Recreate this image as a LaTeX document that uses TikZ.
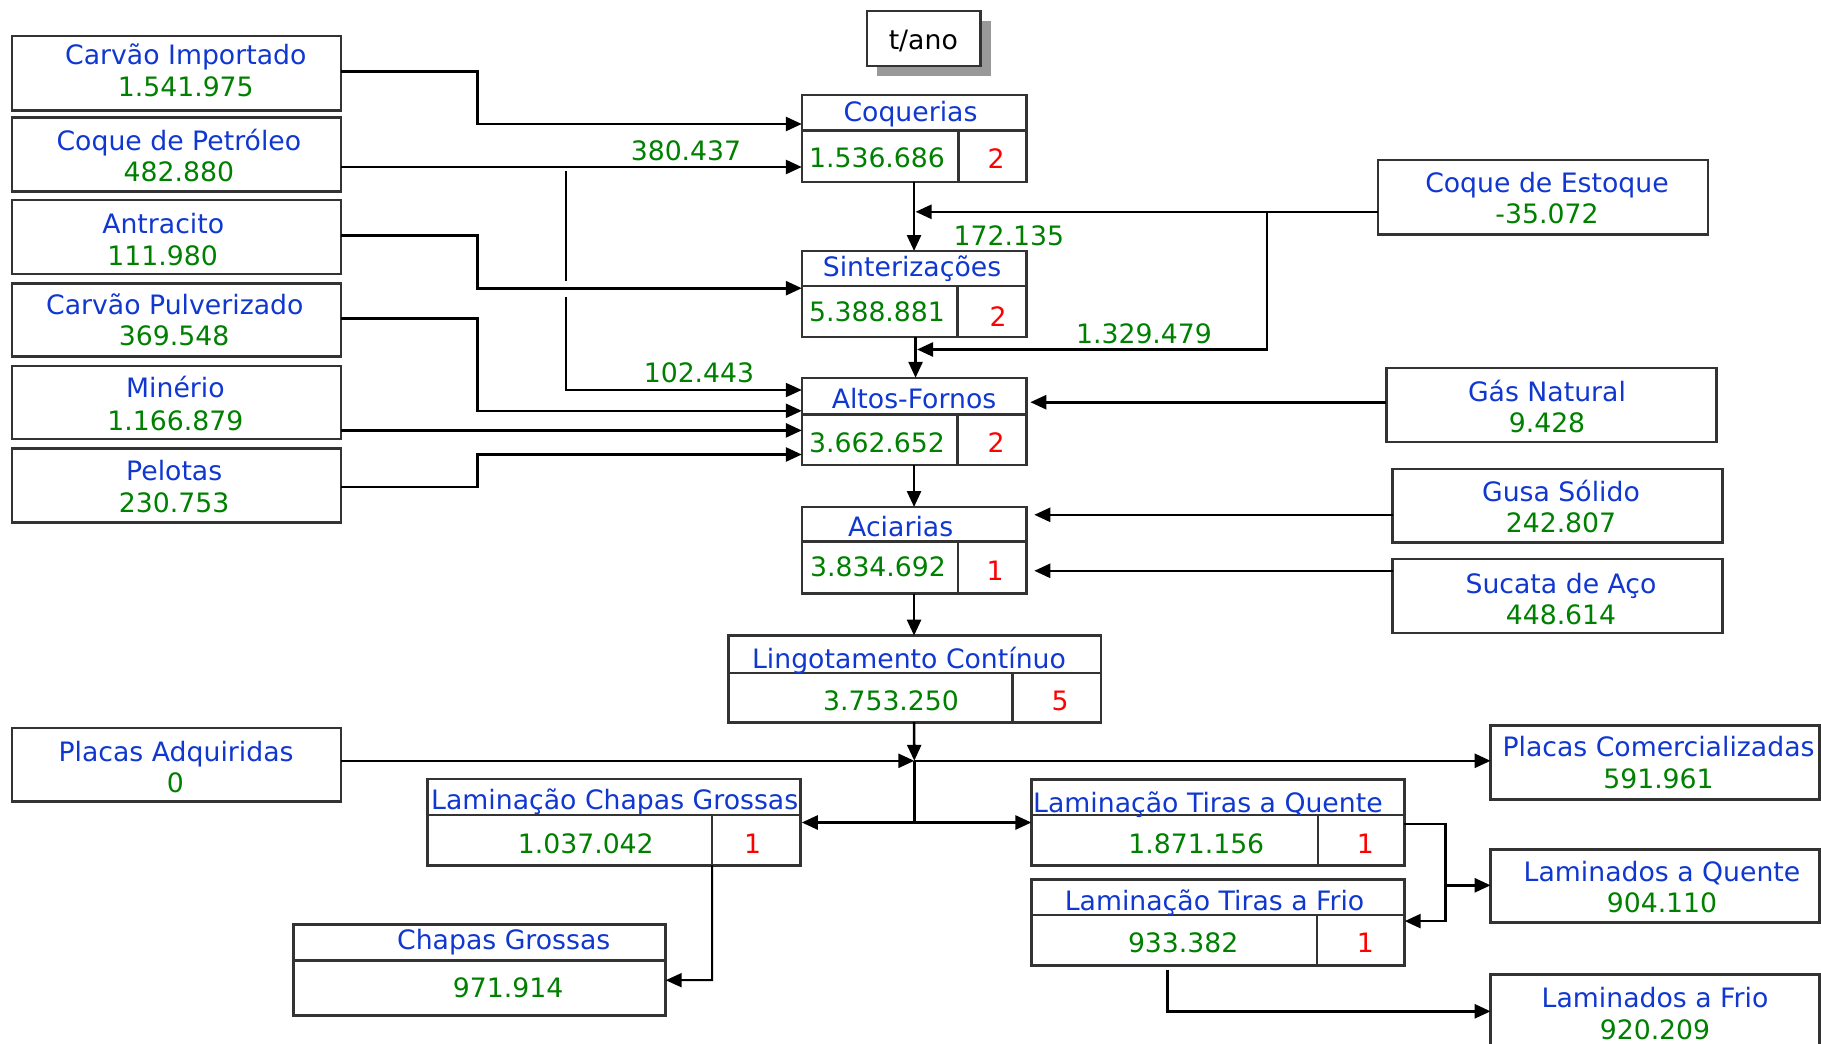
\documentclass[tikz,border=0pt]{standalone}
\usepackage{fontspec}
\setmainfont{DejaVu Sans}
\usetikzlibrary{arrows.meta,fit}
\definecolor{tblue}{RGB}{16,56,208}
\definecolor{ngreen}{RGB}{0,128,0}
\definecolor{boxc}{RGB}{51,51,51}
\definecolor{shadowc}{RGB}{153,153,153}
\newcommand\myfs{\fontsize{26.7}{31}\selectfont}
\begin{document}
\begin{tikzpicture}[x=1pt,y=-1pt,
  cell/.style={draw=boxc, line width=2.6pt, inner sep=0pt, outer sep=0pt},
  frame/.style={inner sep=0pt, outer sep=0pt},
  ttl/.style={text=tblue, anchor=base, font=\myfs, inner sep=0pt},
  ttlw/.style={text=tblue, anchor=base west, font=\myfs, inner sep=0pt},
  num/.style={text=ngreen, anchor=base, font=\myfs, inner sep=0pt},
  cnt/.style={text=red, anchor=base, font=\myfs, inner sep=0pt},
  conn/.style={line width=2.6pt, draw=black},
  thin/.style={line width=2pt, draw=black},
  arr/.style={conn, -{Triangle[length=16pt,width=14pt]}},
  arrthin/.style={thin, -{Triangle[length=16pt,width=14pt]}}
]
\useasboundingbox (0,0) rectangle (1821,1044);
\fill[white] (0,0) rectangle (1821,1044);

% ---- t/ano
\node[frame, fill=shadowc, fit={(877,21) (990.7,76)}] (tsh) {};
\node[cell, fill=white, fit={(867,11) (980.7,66)}] (tano) {};
\node[anchor=base, font=\myfs, inner sep=0pt] (tano-t) at (923.3,49.5) {t/ano};

% ---- left input boxes
\node[cell, fit={(12,36) (341,110.3)}] (cimp) {};
\node[cell, fit={(12,117.5) (341,191.6)}] (cpet) {};
\node[cell, fit={(12,200) (341,274)}] (antr) {};
\node[cell, fit={(12,283.2) (341,356.5)}] (cpul) {};
\node[cell, fit={(12,366) (341,439)}] (mine) {};
\node[cell, fit={(12,448.3) (341,522.5)}] (pelo) {};
\node[cell, fit={(12,727.8) (341,801.4)}] (padq) {};

\node[ttl] (cimp-t) at (185.8,64.6) {Carvão Importado};
\node[num] (cimp-n) at (185.8,96) {1.541.975};
\node[ttl] (cpet-t) at (178.9,150.5) {Coque de Petróleo};
\node[num] (cpet-n) at (178.9,181.9) {482.880};
\node[ttl] (antr-t) at (163.2,233) {Antracito};
\node[num] (antr-n) at (162.6,265.5) {111.980};
\node[ttl] (cpul-t) at (174.8,314.3) {Carvão Pulverizado};
\node[num] (cpul-n) at (174.2,345.6) {369.548};
\node[ttl] (mine-t) at (175.4,397.9) {Minério};
\node[num] (mine-n) at (175.4,430.4) {1.166.879};
\node[ttl] (pelo-t) at (174.2,480.4) {Pelotas};
\node[num] (pelo-n) at (174.2,512.9) {230.753};
\node[ttl] (padq-t) at (176,761.4) {Placas Adquiridas};
\node[num] (padq-n) at (175.4,792.8) {0};

% ---- right boxes
\node[cell, fit={(1378,160) (1708,234.2)}] (cest) {};
\node[cell, fit={(1386.4,367.8) (1716.2,441.8)}] (gas) {};
\node[cell, fit={(1392.7,469) (1722.5,542.4)}] (gusa) {};
\node[cell, fit={(1392.7,558.8) (1722.5,633)}] (suca) {};
\node[cell, fit={(1490.6,725.5) (1819.4,799.4)}] (pcom) {};
\node[cell, fit={(1490.6,849.2) (1819.4,922.7)}] (lq) {};
\node[cell, fit={(1490.6,974.5) (1819.4,1060)}] (lf) {};

\node[ttl] (cest-t) at (1547,192.3) {Coque de Estoque};
\node[num] (cest-n) at (1547,223.7) {-35.072};
\node[ttl] (gas-t) at (1547,401.4) {Gás Natural};
\node[num] (gas-n) at (1547,432.7) {9.428};
\node[ttl] (gusa-t) at (1561,501.3) {Gusa Sólido};
\node[num] (gusa-n) at (1561,532.6) {242.807};
\node[ttl] (suca-t) at (1561,593) {Sucata de Aço};
\node[num] (suca-n) at (1561,624.4) {448.614};
\node[ttl] (pcom-t) at (1658.5,756.8) {Placas Comercializadas};
\node[num] (pcom-n) at (1658.5,788.1) {591.961};
\node[ttl] (lq-t) at (1662,881) {Laminados a Quente};
\node[num] (lq-n) at (1662,912.4) {904.110};
\node[ttl] (lf-t) at (1655,1007.6) {Laminados a Frio};
\node[num] (lf-n) at (1655,1039) {920.209};

% ---- process boxes
% Coquerias
\node[frame, fit={(801.8,95) (1026.3,181.8)}] (coq) {};
\node[cell, fit={(801.8,95) (1026.3,130.5)}] (coqT) {};
\node[cell, fit={(801.8,130.5) (958.3,181.8)}] (coqN) {};
\node[cell, fit={(958.3,130.5) (1026.3,181.8)}] (coqC) {};
\node[ttl] (coq-t) at (910.5,121) {Coquerias};
\node[num] (coq-n) at (877,167.4) {1.536.686};
\node[cnt] (coq-c) at (996,168.4) {2};
% Sinterizacoes
\node[frame, fit={(801.8,251) (1026.3,336.8)}] (sin) {};
\node[cell, fit={(801.8,251) (1026.3,285.8)}] (sinT) {};
\node[cell, fit={(801.8,285.8) (957.6,336.8)}] (sinN) {};
\node[cell, fit={(957.6,285.8) (1026.3,336.8)}] (sinC) {};
\node[ttl] (sin-t) at (912,276.9) {Sinterizações};
\node[num] (sin-n) at (877,321.6) {5.388.881};
\node[cnt] (sin-c) at (998,326) {2};
% Altos-Fornos
\node[frame, fit={(801.8,377.8) (1026.3,464.9)}] (alt) {};
\node[cell, fit={(801.8,377.8) (1026.3,414.3)}] (altT) {};
\node[cell, fit={(801.8,414.3) (957.6,464.9)}] (altN) {};
\node[cell, fit={(957.6,414.3) (1026.3,464.9)}] (altC) {};
\node[ttl] (alt-t) at (914,408.6) {Altos-Fornos};
\node[num] (alt-n) at (877,452.3) {3.662.652};
\node[cnt] (alt-c) at (996,452.3) {2};
% Aciarias
\node[frame, fit={(801.8,507) (1026.3,593.5)}] (aci) {};
\node[cell, fit={(801.8,507) (1026.3,541.4)}] (aciT) {};
\node[cell, fit={(801.8,541.4) (958,593.5)}] (aciN) {};
\node[cell, fit={(958,541.4) (1026.3,593.5)}] (aciC) {};
\node[ttl] (aci-t) at (900.7,536) {Aciarias};
\node[num] (aci-n) at (878,576.8) {3.834.692};
\node[cnt] (aci-c) at (995,580) {1};
% Lingotamento
\node[frame, fit={(728.2,635.6) (1101,722.2)}] (lin) {};
\node[cell, fit={(728.2,635.6) (1101,673)}] (linT) {};
\node[cell, fit={(728.2,673) (1012.5,722.2)}] (linN) {};
\node[cell, fit={(1012.5,673) (1101,722.2)}] (linC) {};
\node[ttl] (lin-t) at (909,668.7) {Lingotamento Contínuo};
\node[num] (lin-n) at (891,710.5) {3.753.250};
\node[cnt] (lin-c) at (1060.2,710.5) {5};
% Laminacao Chapas Grossas
\node[frame, fit={(427.2,779) (800.4,865.3)}] (lcg) {};
\node[cell, fit={(427.2,779) (800.4,814.8)}] (lcgT) {};
\node[cell, fit={(427.2,814.8) (712,865.3)}] (lcgN) {};
\node[cell, fit={(712,814.8) (800.4,865.3)}] (lcgC) {};
\node[ttlw] (lcg-t) at (431,809) {Laminação Chapas Grossas};
\node[num] (lcg-n) at (585.8,853.2) {1.037.042};
\node[cnt] (lcg-c) at (752.7,853.2) {1};
% Laminacao Tiras a Quente
\node[frame, fit={(1031.4,779.4) (1404.2,865.3)}] (ltq) {};
\node[cell, fit={(1031.4,779.4) (1404.2,815)}] (ltqT) {};
\node[cell, fit={(1031.4,815) (1317.8,865.3)}] (ltqN) {};
\node[cell, fit={(1317.8,815) (1404.2,865.3)}] (ltqC) {};
\node[ttlw] (ltq-t) at (1033,812.4) {Laminação Tiras a Quente};
\node[num] (ltq-n) at (1196.3,853.2) {1.871.156};
\node[cnt] (ltq-c) at (1365.4,853.2) {1};
% Laminacao Tiras a Frio
\node[frame, fit={(1031.4,879.3) (1404.7,965.5)}] (ltf) {};
\node[cell, fit={(1031.4,879.3) (1404.7,915)}] (ltfT) {};
\node[cell, fit={(1031.4,915) (1316.8,965.5)}] (ltfN) {};
\node[cell, fit={(1316.8,915) (1404.7,965.5)}] (ltfC) {};
\node[ttl] (ltf-t) at (1214.5,910) {Laminação Tiras a Frio};
\node[num] (ltf-n) at (1183.2,952.8) {933.382};
\node[cnt] (ltf-c) at (1365.4,952.8) {1};
% Chapas Grossas
\node[frame, fit={(293.2,924.4) (665.7,1015.6)}] (cg) {};
\node[cell, fit={(293.2,924.4) (665.7,960.2)}] (cgT) {};
\node[cell, fit={(293.2,960.2) (665.7,1015.6)}] (cgN) {};
\node[ttl] (cg-t) at (503.7,949.5) {Chapas Grossas};
\node[num] (cg-n) at (508.2,997) {971.914};

% ---- flow labels
\node[num] (l1) at (686,160) {380.437};
\node[num] (l2) at (699,382) {102.443};
\node[num] (l3) at (1008.8,245) {172.135};
\node[num] (l4) at (1144,343.3) {1.329.479};

% ---- connectors
\coordinate (k1) at (477.7,71.3);
\coordinate (k2) at (477.7,124);
\draw[arr] (cimp.east |- k1) -- (k1) -- (k2) -- (coqT.west |- k2);

\coordinate (k3) at (600,167);
\draw[arr] (cpet.east |- k3) -- (coqN.west |- k3);

\coordinate (k4) at (566,171);
\coordinate (k5) at (566,280.6);
\coordinate (k6) at (566,296.8);
\coordinate (k7) at (566,390);
\draw[thin] (k4) -- (k5);
\draw[arrthin] (k6) -- (k7) -- (altT.west |- k7);

\coordinate (k8) at (477.7,235.5);
\coordinate (k9) at (477.7,288.2);
\draw[arr] (antr.east |- k8) -- (k8) -- (k9) -- (sinN.west |- k9);

\coordinate (k10) at (477.7,318.5);
\coordinate (k11) at (477.7,410.8);
\draw[arr] (cpul.east |- k10) -- (k10) -- (k11) -- (altT.west |- k11);

\coordinate (k12) at (600,430.4);
\draw[arr] (mine.east |- k12) -- (altN.west |- k12);

\coordinate (k13) at (477.7,487);
\coordinate (k14) at (477.7,454.5);
\draw[arr] (pelo.east |- k13) -- (k13) -- (k14) -- (altN.west |- k14);

\draw[arr] (coq.south) -- (sin.north);

\coordinate (k16) at (1267,211.8);
\coordinate (k17) at (1267,349.5);
\draw[arr] (cest.west |- k16) -- ([xshift=1.5pt]coq.south |- k16);
\draw[arr] (k16) -- (k17) -- ([xshift=3pt]sin.south |- k17);

\draw[arr] ([xshift=1.5pt]sin.south) -- ([xshift=1.5pt]alt.north);

\coordinate (k18) at (1300,402.2);
\draw[arr] (gas.west |- k18) -- ([xshift=4pt]alt.east |- k18);

\draw[arr] (alt.south) -- (aci.north);

\coordinate (k19) at (1300,514.8);
\draw[arr] (gusa.west |- k19) -- ([xshift=8pt]aci.east |- k19);
\coordinate (k20) at (1300,570.8);
\draw[arr] (suca.west |- k20) -- ([xshift=8pt]aci.east |- k20);

\draw[arr] (aci.south) -- (aci.south |- lin.north);

\coordinate (jn) at (914.3,760.8);
\draw[arr] (aci.south |- lin.south) -- (jn);
\draw[arr] (padq.east |- jn) -- (jn);
\draw[arr] (jn) -- (pcom.west |- jn);

\coordinate (jd) at (914.3,822.5);
\draw[conn] (jn) -- (jd);
\draw[arr] (jd) -- ([xshift=1.4pt]lcg.east |- jd);
\draw[arr] (jd) -- (ltq.west |- jd);

\coordinate (k21) at (712,980.2);
\draw[arrthin] (lcgN.south east) -- (k21) -- (cg.east |- k21);

\coordinate (k22) at (1445.5,824.1);
\coordinate (k23) at (1445.5,921.1);
\draw[arr] (ltq.east |- k22) -- (k22) -- (k23) -- (ltf.east |- k23);
\coordinate (k24) at (1445.5,885.3);
\draw[arr] (k24) -- (lq.west |- k24);

\coordinate (k25) at (1167.5,1011.3);
\draw[arr] ([yshift=-4pt]ltf.south -| k25) -- (k25) -- (lf.west |- k25);
\end{tikzpicture}
\end{document}
